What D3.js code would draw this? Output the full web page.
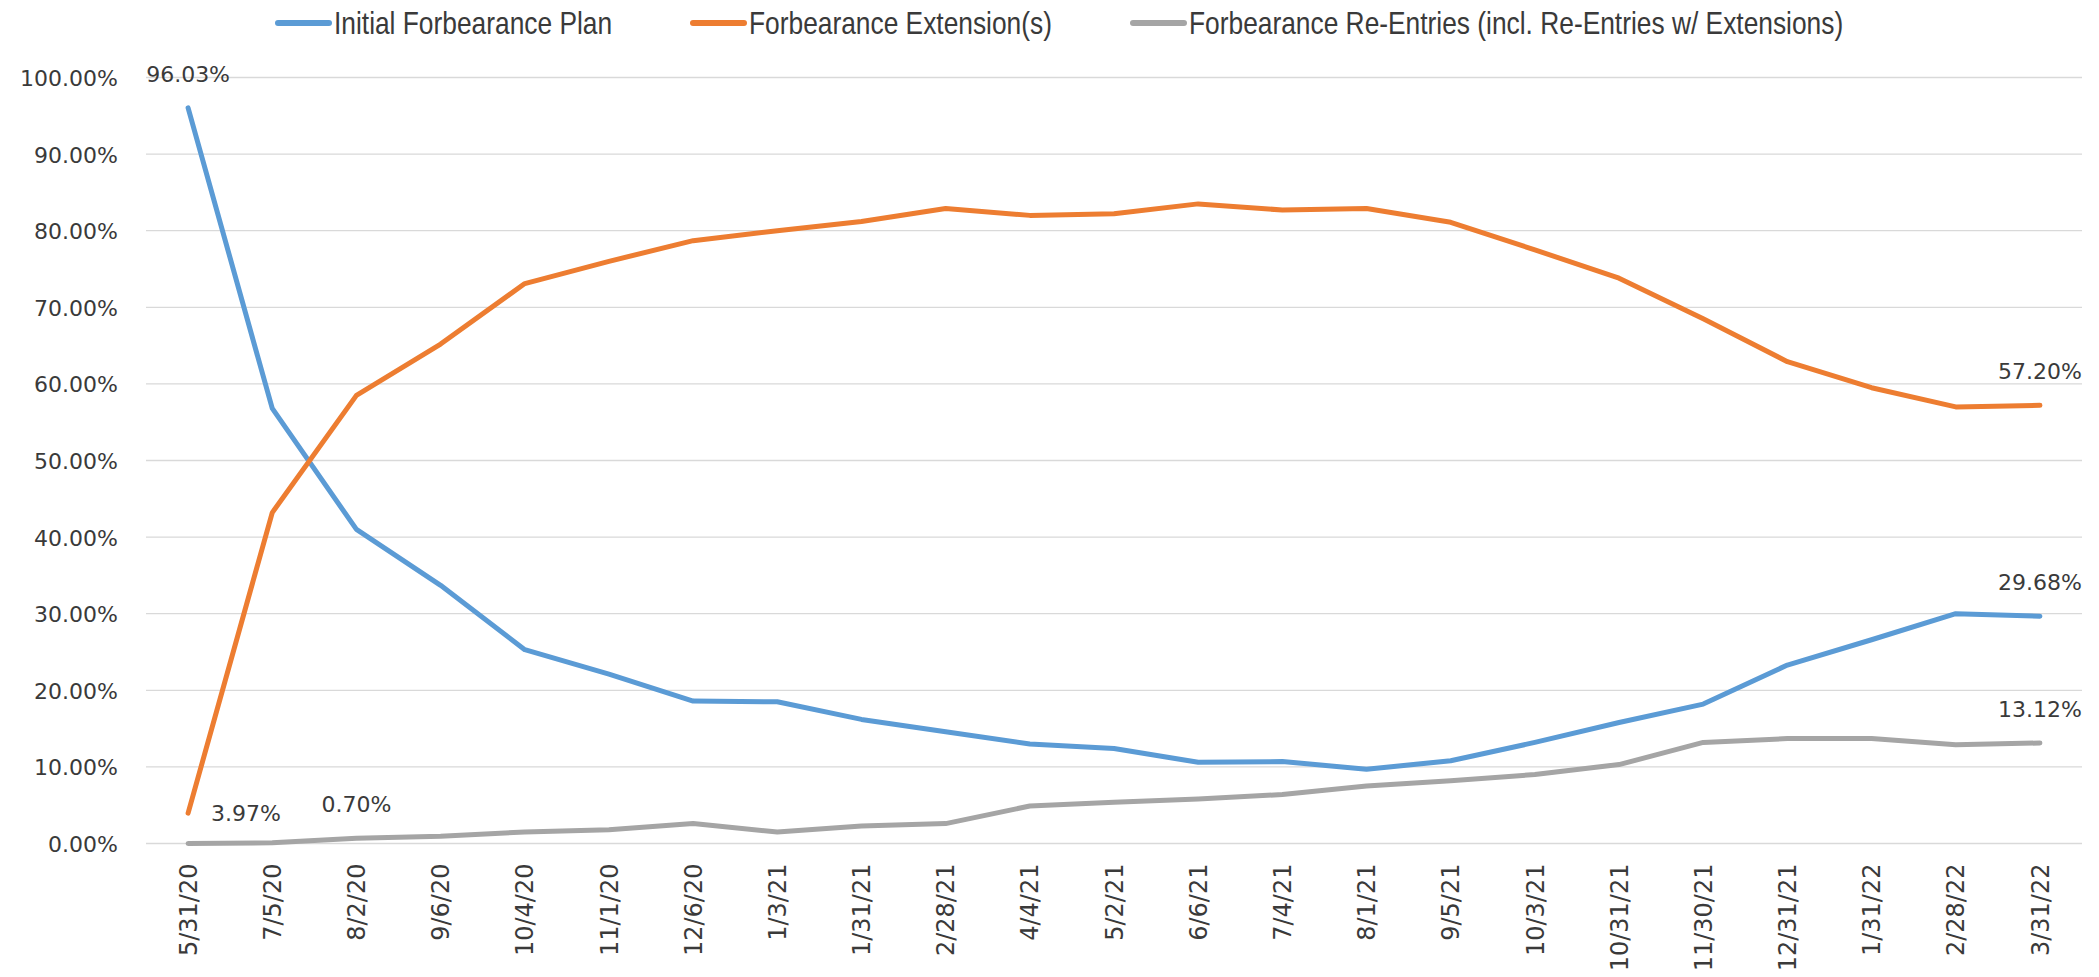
<!DOCTYPE html>
<html>
<head>
<meta charset="utf-8">
<script src="https://cdn.jsdelivr.net/npm/d3@7"></script>
<style>
  html, body { margin: 0; padding: 0; background: #ffffff; }
  svg { display: block; }
</style>
</head>
<body>
<svg id="chart" width="2099" height="977"></svg>
<script>
// ---- data ----
const dates = ["5/31/20","7/5/20","8/2/20","9/6/20","10/4/20","11/1/20","12/6/20","1/3/21","1/31/21","2/28/21","4/4/21","5/2/21","6/6/21","7/4/21","8/1/21","9/5/21","10/3/21","10/31/21","11/30/21","12/31/21","1/31/22","2/28/22","3/31/22"];
const initialPlan = [96.03,56.8,41.0,33.7,25.3,22.1,18.6,18.5,16.2,14.6,13.0,12.4,10.6,10.7,9.7,10.8,13.2,15.8,18.2,23.3,26.6,30.0,29.68];
const extensions  = [3.97,43.2,58.5,65.2,73.1,76.0,78.7,80.0,81.2,82.9,82.0,82.2,83.5,82.7,82.9,81.1,77.5,73.8,68.5,62.9,59.5,57.0,57.20];
const reEntries   = [0.0,0.1,0.70,0.95,1.5,1.8,2.6,1.5,2.3,2.6,4.9,5.4,5.8,6.4,7.5,8.2,9.0,10.3,13.2,13.7,13.7,12.9,13.12];
const seriesNames = ["Initial Forbearance Plan","Forbearance Extension(s)","Forbearance Re-Entries (incl. Re-Entries w/ Extensions)"];
const yTicks = [0,10,20,30,40,50,60,70,80,90,100];
// labelled points: [series index, point index]
const labelledPoints = [[0,0],[1,0],[2,2],[1,22],[0,22],[2,22]];

(function () {
// ---- styles ----
const colors = ["#5B9BD5","#ED7D31","#A5A5A5"];
const textColor = "#3a3a3a";
const numFont = "'DejaVu Sans', Verdana, sans-serif";
const legendFont = "'Liberation Sans', Arial, sans-serif";

const svg = d3.select("#chart");
const pLeft = 146, pRight = 2082, pTop = 77.5, pBottom = 843.5;

const x = d3.scaleBand().domain(dates).range([pLeft, pRight]).padding(0);
const cx = d => x(d) + x.bandwidth() / 2;
const y = d3.scaleLinear().domain([0, 100]).range([pBottom, pTop]);

// gridlines
svg.append("g")
  .selectAll("line").data(yTicks).join("line")
  .attr("x1", pLeft).attr("x2", pRight)
  .attr("y1", d => y(d)).attr("y2", d => y(d))
  .attr("stroke", "#D9D9D9").attr("stroke-width", 1.3);

// y axis labels
const yAxis = d3.axisLeft(y).tickValues(yTicks).tickFormat(d => d.toFixed(2) + "%").tickSize(0).tickPadding(0);
const gy = svg.append("g").attr("transform", `translate(${118},0)`).call(yAxis);
gy.select(".domain").remove();
gy.selectAll("text")
  .attr("font-family", numFont).attr("font-size", 22)
  .attr("fill", textColor).attr("dy", "0.36em");

// x axis labels
const xAxis = d3.axisBottom(x).tickSize(0).tickPadding(0);
const gx = svg.append("g").attr("transform", `translate(0,${pBottom})`).call(xAxis);
gx.select(".domain").remove();
gx.selectAll(".tick text")
  .attr("font-family", numFont).attr("font-size", 24)
  .attr("fill", textColor)
  .attr("text-anchor", "end")
  .attr("transform", "translate(0,20) rotate(-90)")
  .attr("x", 0).attr("y", 0).attr("dy", "0.36em");

// lines
const allSeries = [initialPlan, extensions, reEntries];
const line = d3.line().x((d, i) => cx(dates[i])).y(d => y(d)).curve(d3.curveLinear);
svg.append("g").selectAll("path").data(allSeries).join("path")
  .attr("d", d => line(d))
  .attr("fill", "none")
  .attr("stroke", (d, i) => colors[i])
  .attr("stroke-width", 5)
  .attr("stroke-linejoin", "round")
  .attr("stroke-linecap", "round");

// data labels
const lbl = svg.append("g");
labelledPoints.forEach(([s, i]) => {
  const v = allSeries[s][i];
  const px = cx(dates[i]), py = y(v);
  const isRight = (s === 1 && i === 0);
  lbl.append("text")
    .attr("x", isRight ? px + 23 : px)
    .attr("y", isRight ? py : py - 34)
    .attr("dy", "0.36em")
    .attr("text-anchor", isRight ? "start" : "middle")
    .attr("font-family", numFont).attr("font-size", 22)
    .attr("fill", textColor)
    .text(v.toFixed(2) + "%");
});

// legend
const legendStarts = [275, 690, 1130];
const lg = svg.append("g");
seriesNames.forEach((name, i) => {
  const g = lg.append("g").attr("transform", `translate(${legendStarts[i]},23)`);
  g.append("line").attr("x1", 3).attr("x2", 54).attr("y1", 0).attr("y2", 0)
    .attr("stroke", colors[i]).attr("stroke-width", 6).attr("stroke-linecap", "round");
  g.append("text").attr("x", 0).attr("y", 0).attr("dy", "0.36em")
    .attr("transform", "translate(59,0) scale(0.85,1)")
    .attr("font-family", legendFont).attr("font-size", 31)
    .attr("fill", textColor).text(name);
});
})();
</script>
</body>
</html>
